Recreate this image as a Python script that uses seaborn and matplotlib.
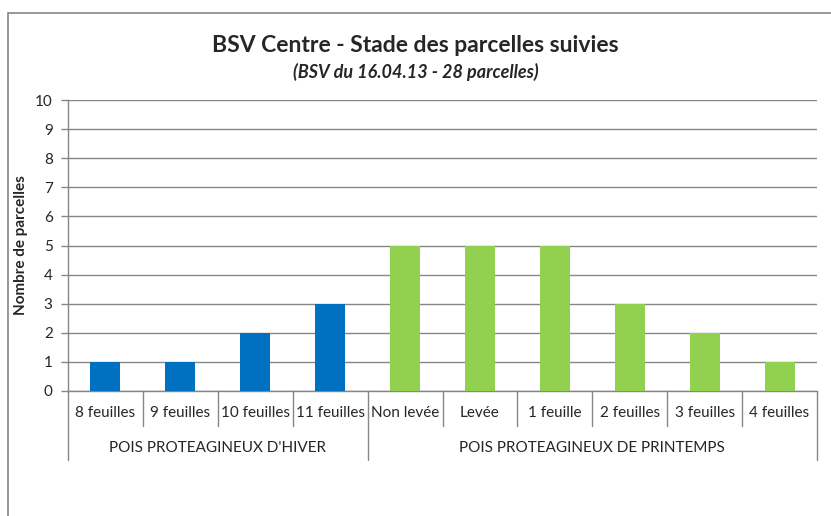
import pandas as pd
import matplotlib
matplotlib.use("Agg")
import matplotlib.pyplot as plt
import seaborn as sns
from matplotlib.patches import Rectangle

# data
stades = ["8 feuilles", "9 feuilles", "10 feuilles", "11 feuilles",
          "Non levée", "Levée", "1 feuille", "2 feuilles", "3 feuilles", "4 feuilles"]
nb_parcelles = [1, 1, 2, 3, 5, 5, 5, 3, 2, 1]
groupes = ["POIS PROTEAGINEUX D'HIVER"] * 4 + ["POIS PROTEAGINEUX DE PRINTEMPS"] * 6
couleurs = {"POIS PROTEAGINEUX D'HIVER": "#0070C0",
            "POIS PROTEAGINEUX DE PRINTEMPS": "#92D050"}

df = pd.DataFrame({"stade": stades, "n": nb_parcelles, "groupe": groupes})

sns.set_style("white")
plt.rcParams['font.family'] = ['Lato', 'DejaVu Sans']

fig = plt.figure(figsize=(8.31, 5.16), dpi=100)
ax = fig.add_axes([68 / 831, 1 - 391 / 516, (817 - 68) / 831, (391 - 100) / 516])

# cadre gris du graphique
fig.patches.append(Rectangle((8 / 831, -0.1), 1.0, 1 - 13 / 516 + 0.1,
                             transform=fig.transFigure, fill=False,
                             edgecolor="#868686", linewidth=1.2))

sns.barplot(data=df, x="stade", y="n", hue="groupe", order=stades,
            palette=couleurs, dodge=False, width=0.4, legend=False,
            saturation=1, linewidth=0, ax=ax, zorder=3)

ax.set_ylim(0, 10)
ax.set_xlim(-0.5, len(stades) - 0.5)
ax.set_yticks(range(0, 11))
ax.yaxis.grid(True, color="#868686", linewidth=1, zorder=0)
ax.tick_params(axis="y", length=5, width=1, color="#868686", labelsize=11, pad=6, left=True)
ax.set_xticks([])
ax.set_xlabel("")
ax.set_ylabel("Nombre de parcelles", fontsize=11, fontweight="bold", labelpad=5)
for s in ["top", "right"]:
    ax.spines[s].set_visible(False)
for s in ["left", "bottom"]:
    ax.spines[s].set_color("#868686")
    ax.spines[s].set_linewidth(1)

# axe des x à deux niveaux
trans = ax.get_xaxis_transform()
for i, s in enumerate(stades):
    ax.text(i, -0.076, s, transform=trans, ha="center", va="center", fontsize=11)
for b in range(len(stades) + 1):
    ybas = -0.237 if b in (0, 4, len(stades)) else -0.12
    ax.plot([b - 0.5, b - 0.5], [0, ybas], transform=trans, color="#868686",
            linewidth=1, clip_on=False)
debut = 0
for g in dict.fromkeys(groupes):
    nb = groupes.count(g)
    ax.text(debut + (nb - 1) / 2, -0.196, g, transform=trans, ha="center",
            va="center", fontsize=11)
    debut += nb

fig.text(0.5, 1 - 45 / 516, "BSV Centre - Stade des parcelles suivies",
         ha="center", va="center", fontsize=16.5, fontweight="bold")
fig.text(0.5, 1 - 72 / 516, "(BSV du 16.04.13 - 28 parcelles)",
         ha="center", va="center", fontsize=13, fontweight="bold", style="italic")

fig.savefig("out.png", dpi=100)
